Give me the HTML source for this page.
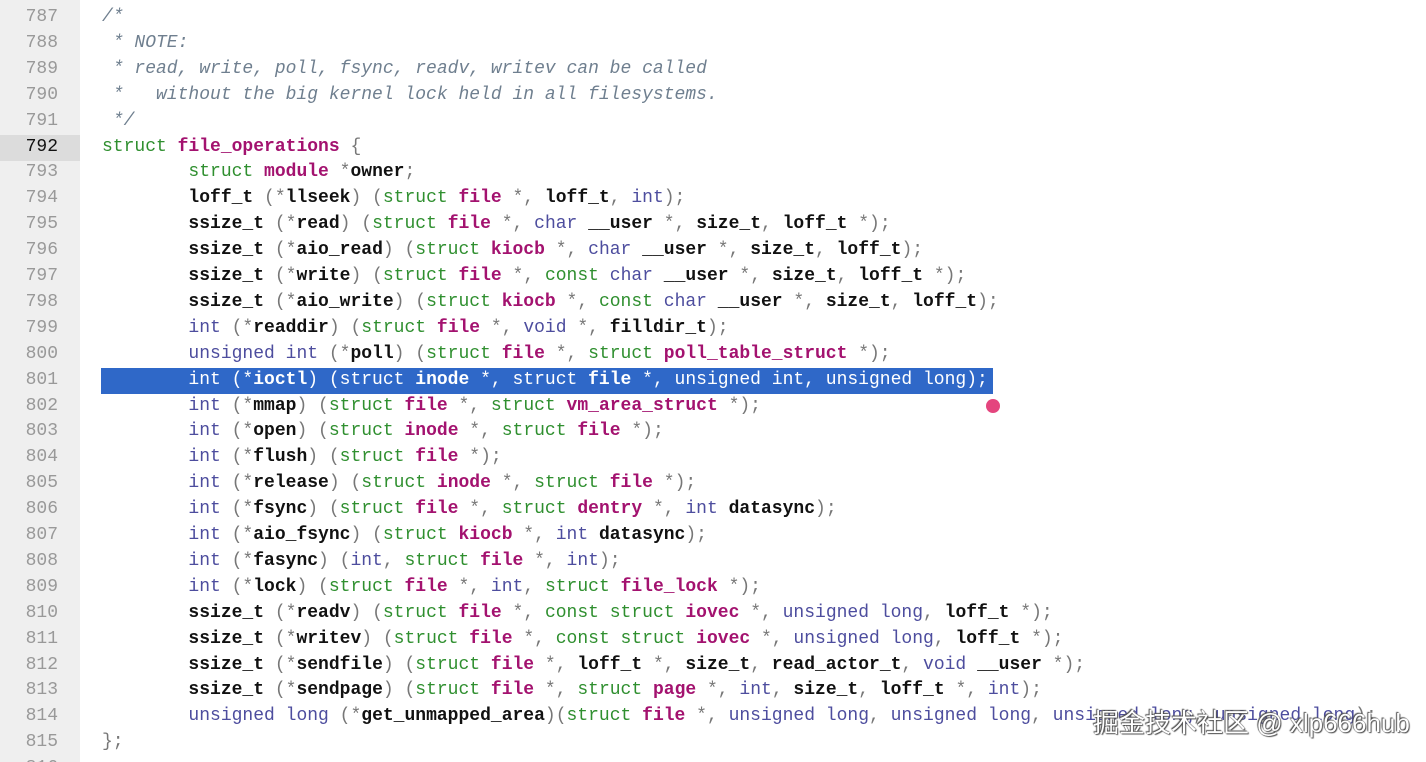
<!DOCTYPE html>
<html><head><meta charset="utf-8"><style>
html,body{margin:0;padding:0;background:#fff;width:1426px;height:762px;overflow:hidden;position:relative}
#g{position:absolute;left:0;top:0;width:80px;height:762px;background:#efefef}
.ln,.cl{position:absolute;height:25.9px;line-height:25.9px;font-family:"Liberation Mono",monospace;font-size:18px;white-space:pre}
.ln{left:0;width:58px;text-align:right;color:#999}
.cl{left:102px;color:#777}
.k{color:#2f8f2f}.t{color:#a3126f;font-weight:bold}.b{color:#4d4d9e}.i{color:#111;font-weight:bold}
.c{color:#6f7f8f;font-style:italic}
#hl{position:absolute;left:101px;top:368px;width:892px;height:26px;background:#2f68c8}
#hl2{position:absolute;left:0;top:135px;width:80px;height:26px;background:#dcdcdc}
.sel,.sel span{color:#fff !important}
#dot{position:absolute;left:986px;top:399px;width:14px;height:14px;border-radius:50%;background:#e4457e}
#wm{position:absolute;left:1093px;top:703px;font-family:"Liberation Sans","Noto Sans CJK SC",sans-serif;font-size:26px;color:#fff;text-shadow:0 0 1px #333,1px 1px 1px #555,-1px -1px 1px #555;white-space:nowrap}
</style></head><body>
<div id="g"></div><div id="hl2"></div><div id="hl"></div>
<div class="ln" style="top:5px">787</div><div class="cl c" style="top:5px">/*</div>
<div class="ln" style="top:30.9px">788</div><div class="cl c" style="top:30.9px"> * NOTE:</div>
<div class="ln" style="top:56.8px">789</div><div class="cl c" style="top:56.8px"> * read, write, poll, fsync, readv, writev can be called</div>
<div class="ln" style="top:82.7px">790</div><div class="cl c" style="top:82.7px"> *   without the big kernel lock held in all filesystems.</div>
<div class="ln" style="top:108.6px">791</div><div class="cl c" style="top:108.6px"> */</div>
<div class="ln" style="top:134.5px;color:#111">792</div><div class="cl" style="top:134.5px"><span class="k">struct</span> <span class="t">file_operations</span> {</div>
<div class="ln" style="top:160.4px">793</div><div class="cl" style="top:160.4px">        <span class="k">struct</span> <span class="t">module</span> *<span class="i">owner</span>;</div>
<div class="ln" style="top:186.3px">794</div><div class="cl" style="top:186.3px">        <span class="i">loff_t</span> (*<span class="i">llseek</span>) (<span class="k">struct</span> <span class="t">file</span> *, <span class="i">loff_t</span>, <span class="b">int</span>);</div>
<div class="ln" style="top:212.2px">795</div><div class="cl" style="top:212.2px">        <span class="i">ssize_t</span> (*<span class="i">read</span>) (<span class="k">struct</span> <span class="t">file</span> *, <span class="b">char</span> <span class="i">__user</span> *, <span class="i">size_t</span>, <span class="i">loff_t</span> *);</div>
<div class="ln" style="top:238.1px">796</div><div class="cl" style="top:238.1px">        <span class="i">ssize_t</span> (*<span class="i">aio_read</span>) (<span class="k">struct</span> <span class="t">kiocb</span> *, <span class="b">char</span> <span class="i">__user</span> *, <span class="i">size_t</span>, <span class="i">loff_t</span>);</div>
<div class="ln" style="top:264px">797</div><div class="cl" style="top:264px">        <span class="i">ssize_t</span> (*<span class="i">write</span>) (<span class="k">struct</span> <span class="t">file</span> *, <span class="k">const</span> <span class="b">char</span> <span class="i">__user</span> *, <span class="i">size_t</span>, <span class="i">loff_t</span> *);</div>
<div class="ln" style="top:289.9px">798</div><div class="cl" style="top:289.9px">        <span class="i">ssize_t</span> (*<span class="i">aio_write</span>) (<span class="k">struct</span> <span class="t">kiocb</span> *, <span class="k">const</span> <span class="b">char</span> <span class="i">__user</span> *, <span class="i">size_t</span>, <span class="i">loff_t</span>);</div>
<div class="ln" style="top:315.8px">799</div><div class="cl" style="top:315.8px">        <span class="b">int</span> (*<span class="i">readdir</span>) (<span class="k">struct</span> <span class="t">file</span> *, <span class="b">void</span> *, <span class="i">filldir_t</span>);</div>
<div class="ln" style="top:341.7px">800</div><div class="cl" style="top:341.7px">        <span class="b">unsigned int</span> (*<span class="i">poll</span>) (<span class="k">struct</span> <span class="t">file</span> *, <span class="k">struct</span> <span class="t">poll_table_struct</span> *);</div>
<div class="ln" style="top:367.6px">801</div><div class="cl sel" style="top:367.6px">        int (*<b>ioctl</b>) (struct <b>inode</b> *, struct <b>file</b> *, unsigned int, unsigned long);</div>
<div class="ln" style="top:393.5px">802</div><div class="cl" style="top:393.5px">        <span class="b">int</span> (*<span class="i">mmap</span>) (<span class="k">struct</span> <span class="t">file</span> *, <span class="k">struct</span> <span class="t">vm_area_struct</span> *);</div>
<div class="ln" style="top:419.4px">803</div><div class="cl" style="top:419.4px">        <span class="b">int</span> (*<span class="i">open</span>) (<span class="k">struct</span> <span class="t">inode</span> *, <span class="k">struct</span> <span class="t">file</span> *);</div>
<div class="ln" style="top:445.3px">804</div><div class="cl" style="top:445.3px">        <span class="b">int</span> (*<span class="i">flush</span>) (<span class="k">struct</span> <span class="t">file</span> *);</div>
<div class="ln" style="top:471.2px">805</div><div class="cl" style="top:471.2px">        <span class="b">int</span> (*<span class="i">release</span>) (<span class="k">struct</span> <span class="t">inode</span> *, <span class="k">struct</span> <span class="t">file</span> *);</div>
<div class="ln" style="top:497.1px">806</div><div class="cl" style="top:497.1px">        <span class="b">int</span> (*<span class="i">fsync</span>) (<span class="k">struct</span> <span class="t">file</span> *, <span class="k">struct</span> <span class="t">dentry</span> *, <span class="b">int</span> <span class="i">datasync</span>);</div>
<div class="ln" style="top:523px">807</div><div class="cl" style="top:523px">        <span class="b">int</span> (*<span class="i">aio_fsync</span>) (<span class="k">struct</span> <span class="t">kiocb</span> *, <span class="b">int</span> <span class="i">datasync</span>);</div>
<div class="ln" style="top:548.9px">808</div><div class="cl" style="top:548.9px">        <span class="b">int</span> (*<span class="i">fasync</span>) (<span class="b">int</span>, <span class="k">struct</span> <span class="t">file</span> *, <span class="b">int</span>);</div>
<div class="ln" style="top:574.8px">809</div><div class="cl" style="top:574.8px">        <span class="b">int</span> (*<span class="i">lock</span>) (<span class="k">struct</span> <span class="t">file</span> *, <span class="b">int</span>, <span class="k">struct</span> <span class="t">file_lock</span> *);</div>
<div class="ln" style="top:600.7px">810</div><div class="cl" style="top:600.7px">        <span class="i">ssize_t</span> (*<span class="i">readv</span>) (<span class="k">struct</span> <span class="t">file</span> *, <span class="k">const struct</span> <span class="t">iovec</span> *, <span class="b">unsigned long</span>, <span class="i">loff_t</span> *);</div>
<div class="ln" style="top:626.6px">811</div><div class="cl" style="top:626.6px">        <span class="i">ssize_t</span> (*<span class="i">writev</span>) (<span class="k">struct</span> <span class="t">file</span> *, <span class="k">const struct</span> <span class="t">iovec</span> *, <span class="b">unsigned long</span>, <span class="i">loff_t</span> *);</div>
<div class="ln" style="top:652.5px">812</div><div class="cl" style="top:652.5px">        <span class="i">ssize_t</span> (*<span class="i">sendfile</span>) (<span class="k">struct</span> <span class="t">file</span> *, <span class="i">loff_t</span> *, <span class="i">size_t</span>, <span class="i">read_actor_t</span>, <span class="b">void</span> <span class="i">__user</span> *);</div>
<div class="ln" style="top:678.4px">813</div><div class="cl" style="top:678.4px">        <span class="i">ssize_t</span> (*<span class="i">sendpage</span>) (<span class="k">struct</span> <span class="t">file</span> *, <span class="k">struct</span> <span class="t">page</span> *, <span class="b">int</span>, <span class="i">size_t</span>, <span class="i">loff_t</span> *, <span class="b">int</span>);</div>
<div class="ln" style="top:704.3px">814</div><div class="cl" style="top:704.3px">        <span class="b">unsigned long</span> (*<span class="i">get_unmapped_area</span>)(<span class="k">struct</span> <span class="t">file</span> *, <span class="b">unsigned long</span>, <span class="b">unsigned long</span>, <span class="b">unsigned long</span>, <span class="b">unsigned long</span>);</div>
<div class="ln" style="top:730.2px">815</div><div class="cl" style="top:730.2px">};</div>
<div class="ln" style="top:756.1px">816</div>
<div id="dot"></div>
<div id="wm">掘金技术社区 @ xlp666hub</div>
</body></html>
